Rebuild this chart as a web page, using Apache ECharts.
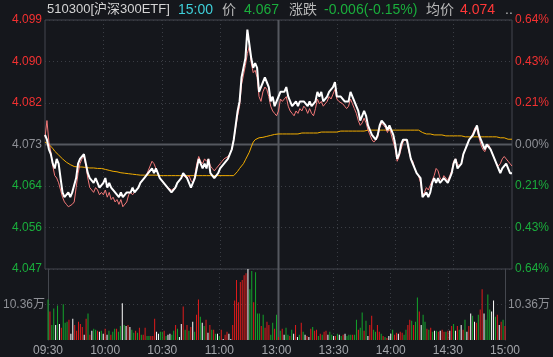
<!DOCTYPE html>
<html><head><meta charset="utf-8">
<script src="https://cdn.jsdelivr.net/npm/echarts/dist/echarts.min.js"></script>
<style>html,body{margin:0;padding:0;background:#15171c;}#c{width:553px;height:357px;}</style>
</head><body><div id="c"></div>
<script>
const prevClose = 4.073;
const priceMin = 4.047, priceMax = 4.099;
const volMax = 20.72, volMid = 10.36;
const xTickLabels = ['09:30','10:00','10:30','11:00','13:00','13:30','14:00','14:30','15:00'];
const headerTexts = ['510300[沪深300ETF]','15:00','价','4.067','涨跌','-0.006(-0.15%)','均价','4.074','..'];
const price = [
4.075,4.074,4.072,4.071,4.069,4.068,4.070,4.069,4.066,4.063,
4.062,4.062,4.063,4.062,4.063,4.063,4.066,4.069,4.070,4.070,
4.071,4.069,4.067,4.066,4.066,4.065,4.066,4.065,4.064,4.064,
4.065,4.066,4.064,4.065,4.064,4.064,4.063,4.063,4.062,4.063,
4.062,4.062,4.063,4.063,4.063,4.064,4.063,4.063,4.064,4.065,
4.065,4.066,4.066,4.067,4.067,4.068,4.067,4.068,4.068,4.066,
4.066,4.065,4.065,4.064,4.064,4.063,4.063,4.064,4.065,4.065,
4.066,4.067,4.067,4.066,4.066,4.064,4.064,4.066,4.068,4.070,
4.069,4.068,4.069,4.068,4.070,4.067,4.067,4.066,4.066,4.067,
4.068,4.068,4.069,4.069,4.070,4.071,4.072,4.074,4.077,4.080,
4.082,4.087,4.089,4.091,4.097,4.097,4.091,4.089,4.090,4.089,
4.084,4.084,4.086,4.087,4.086,4.085,4.082,4.083,4.081,4.082,
4.083,4.084,4.084,4.084,4.085,4.083,4.082,4.081,4.081,4.082,
4.081,4.082,4.082,4.082,4.082,4.081,4.082,4.081,4.081,4.082,
4.084,4.083,4.084,4.082,4.082,4.083,4.084,4.084,4.085,4.086,
4.083,4.083,4.083,4.083,4.082,4.082,4.082,4.084,4.083,4.082,
4.081,4.080,4.078,4.079,4.080,4.079,4.077,4.076,4.075,4.075,
4.074,4.075,4.077,4.078,4.078,4.077,4.076,4.077,4.076,4.075,
4.073,4.070,4.071,4.073,4.074,4.074,4.074,4.072,4.070,4.070,
4.068,4.067,4.067,4.066,4.062,4.062,4.063,4.062,4.063,4.065,
4.066,4.065,4.066,4.065,4.065,4.066,4.066,4.065,4.066,4.067,
4.069,4.070,4.068,4.068,4.069,4.071,4.072,4.073,4.074,4.074,
4.075,4.076,4.077,4.075,4.074,4.073,4.072,4.073,4.073,4.072,
4.071,4.070,4.069,4.069,4.067,4.068,4.068,4.069,4.068,4.067,
4.067];
const indexLine = [
4.0745,4.0780,4.0735,4.0715,4.0685,4.0665,4.0660,4.0650,4.0635,4.0620,
4.0610,4.0605,4.0600,4.0597,4.0605,4.0610,4.0640,4.0670,4.0690,4.0700,
4.0705,4.0685,4.0660,4.0640,4.0635,4.0630,4.0640,4.0635,4.0625,4.0630,
4.0625,4.0635,4.0620,4.0630,4.0615,4.0620,4.0610,4.0615,4.0605,4.0615,
4.0600,4.0598,4.0610,4.0625,4.0630,4.0625,4.0630,4.0635,4.0640,4.0650,
4.0655,4.0660,4.0665,4.0675,4.0685,4.0695,4.0690,4.0680,4.0670,4.0660,
4.0655,4.0650,4.0645,4.0640,4.0640,4.0635,4.0635,4.0640,4.0650,4.0655,
4.0660,4.0665,4.0665,4.0660,4.0665,4.0655,4.0650,4.0665,4.0690,4.0705,
4.0695,4.0690,4.0700,4.0695,4.0700,4.0685,4.0680,4.0675,4.0680,4.0685,
4.0690,4.0695,4.0700,4.0700,4.0705,4.0710,4.0720,4.0740,4.0765,4.0790,
4.0810,4.0855,4.0875,4.0895,4.0920,4.0935,4.0900,4.0880,4.0885,4.0870,
4.0830,4.0820,4.0840,4.0850,4.0845,4.0830,4.0810,4.0800,4.0795,4.0790,
4.0800,4.0825,4.0820,4.0825,4.0830,4.0810,4.0800,4.0795,4.0790,4.0800,
4.0795,4.0805,4.0800,4.0810,4.0805,4.0795,4.0805,4.0795,4.0790,4.0805,
4.0825,4.0815,4.0820,4.0810,4.0810,4.0820,4.0830,4.0825,4.0835,4.0845,
4.0825,4.0820,4.0820,4.0815,4.0810,4.0805,4.0810,4.0825,4.0815,4.0805,
4.0795,4.0780,4.0770,4.0775,4.0785,4.0775,4.0760,4.0750,4.0740,4.0735,
4.0735,4.0745,4.0765,4.0775,4.0770,4.0765,4.0755,4.0765,4.0750,4.0735,
4.0720,4.0695,4.0705,4.0720,4.0735,4.0740,4.0735,4.0715,4.0700,4.0695,
4.0680,4.0670,4.0665,4.0650,4.0625,4.0630,4.0640,4.0635,4.0645,4.0655,
4.0665,4.0680,4.0675,4.0660,4.0655,4.0665,4.0660,4.0655,4.0665,4.0675,
4.0695,4.0700,4.0690,4.0685,4.0690,4.0710,4.0720,4.0730,4.0740,4.0745,
4.0755,4.0765,4.0760,4.0745,4.0730,4.0720,4.0715,4.0725,4.0730,4.0720,
4.0710,4.0700,4.0690,4.0685,4.0690,4.0700,4.0705,4.0700,4.0695,4.0690,
4.0685];
const avgPrice = [
4.0735,4.0733,4.0730,4.0727,4.0722,4.0716,4.0712,4.0708,4.0704,4.0700,
4.0696,4.0693,4.0690,4.0688,4.0686,4.0684,4.0683,4.0683,4.0683,4.0683,
4.0682,4.0682,4.0682,4.0681,4.0681,4.0681,4.0681,4.0680,4.0680,4.0680,
4.0679,4.0678,4.0677,4.0676,4.0675,4.0674,4.0674,4.0673,4.0672,4.0671,
4.0671,4.0670,4.0669,4.0669,4.0668,4.0668,4.0667,4.0667,4.0667,4.0666,
4.0666,4.0666,4.0666,4.0666,4.0666,4.0666,4.0666,4.0666,4.0666,4.0665,
4.0665,4.0665,4.0665,4.0665,4.0665,4.0665,4.0665,4.0665,4.0665,4.0665,
4.0665,4.0665,4.0665,4.0665,4.0665,4.0665,4.0665,4.0665,4.0665,4.0665,
4.0665,4.0665,4.0665,4.0665,4.0665,4.0665,4.0665,4.0665,4.0665,4.0665,
4.0665,4.0665,4.0665,4.0665,4.0665,4.0665,4.0665,4.0665,4.0668,4.0674,
4.0680,4.0684,4.0690,4.0698,4.0706,4.0714,4.0725,4.0735,4.0740,4.0742,
4.0744,4.0745,4.0745,4.0746,4.0747,4.0748,4.0749,4.0750,4.0751,4.0751,
4.0752,4.0752,4.0752,4.0752,4.0752,4.0752,4.0752,4.0752,4.0752,4.0752,
4.0752,4.0752,4.0754,4.0754,4.0754,4.0754,4.0754,4.0754,4.0754,4.0754,
4.0754,4.0756,4.0756,4.0756,4.0756,4.0756,4.0756,4.0756,4.0756,4.0756,
4.0756,4.0758,4.0758,4.0758,4.0758,4.0758,4.0758,4.0758,4.0758,4.0758,
4.0758,4.0758,4.0758,4.0758,4.0758,4.0760,4.0760,4.0760,4.0760,4.0760,
4.0760,4.0760,4.0760,4.0760,4.0760,4.0760,4.0760,4.0760,4.0760,4.0760,
4.0760,4.0760,4.0760,4.0760,4.0760,4.0760,4.0760,4.0760,4.0760,4.0760,
4.0760,4.0760,4.0760,4.0757,4.0755,4.0752,4.0752,4.0752,4.0752,4.0750,
4.0750,4.0750,4.0750,4.0750,4.0750,4.0748,4.0748,4.0748,4.0748,4.0748,
4.0748,4.0748,4.0748,4.0748,4.0748,4.0746,4.0746,4.0746,4.0746,4.0746,
4.0746,4.0746,4.0746,4.0746,4.0746,4.0746,4.0746,4.0746,4.0746,4.0746,
4.0746,4.0746,4.0746,4.0744,4.0744,4.0744,4.0744,4.0744,4.0741,4.0741,
4.0741];
const volume = [
11.8,8.3,4.4,9.2,4.4,10.1,4.7,3.6,10.4,5.0,
5.3,5.9,1.8,6.2,4.4,2.7,5.3,4.7,3.8,1.5,
6.2,7.7,1.5,2.7,3.3,3.0,2.7,2.4,2.7,1.8,
3.3,1.5,2.7,1.5,2.4,3.3,3.3,2.4,4.1,10.7,
4.4,4.1,4.4,3.8,3.0,2.1,2.7,2.1,3.6,1.5,
1.5,3.6,1.2,1.2,1.2,1.2,6.2,2.4,1.8,2.4,
2.4,2.7,1.2,1.5,1.8,1.5,2.7,4.4,3.3,0.9,
4.7,9.8,3.0,4.4,2.7,3.8,5.3,2.4,7.4,11.8,
6.8,5.0,4.1,5.9,2.1,4.4,3.0,3.0,1.8,1.8,
1.2,3.0,0.3,1.5,2.4,1.8,0.3,4.4,11.5,17.5,
11.0,16.9,17.5,18.9,19.5,20.7,14.8,20.1,11.0,19.8,
7.7,7.7,4.1,7.4,3.6,5.3,4.4,1.5,5.0,3.3,
7.4,0.9,2.7,3.3,1.5,3.6,1.5,1.2,3.0,1.8,
4.4,0.9,1.5,5.0,2.4,1.5,1.2,0.9,3.3,3.8,
2.7,3.0,1.2,1.8,1.5,2.4,2.7,1.5,2.4,1.5,
1.2,1.2,1.8,1.5,1.2,1.5,1.8,1.2,1.5,1.5,
1.5,1.5,5.9,3.0,3.6,8.0,2.7,5.6,1.2,4.4,
7.1,3.0,2.4,4.4,2.4,1.8,1.2,0.9,0.6,1.2,
1.8,3.0,1.5,2.1,1.8,2.4,2.1,1.5,3.0,4.4,
5.9,5.6,4.4,5.3,12.4,8.3,4.4,7.4,5.3,3.3,
3.0,3.6,2.4,2.7,2.7,2.4,2.7,3.0,2.4,2.4,
2.7,2.7,4.1,4.7,2.7,4.1,3.0,4.4,3.0,5.9,
2.4,4.1,7.7,7.1,5.3,5.0,7.4,8.9,14.8,7.7,
5.9,13.3,8.9,8.3,11.5,6.8,7.4,4.4,5.3,5.9,
4.1];
const volDir = [
'grggwgwrgg','grwwrrrrrw','rgrwggrwgw','rwgrggrggw','gwrwggrgrg',
'rrggrrrwwg','grgwwggrgw','wrgrgrwgrr','gwgrwrgrgw','grwrrwwrrr',
'rrrrrwggrg','ggrgrrrggr','grgrwggrgw','rwgrgwrwrg','rrgrgrrwgg',
'wrgwgrwggg','rggrggrgwr','rggrrgrgrw','wgrrwrrggr','rgrggrwggr',
'grgwgrwrrg','rwrgwrgwrg','wrwgwrgrrw','gggwwgrwrg','r'].join('');

const times = [];
const hm = m => String(Math.floor(m/60)).padStart(2,'0') + ':' + String(m%60).padStart(2,'0');
for (let m = 9*60+30; m <= 11*60+30; m++) times.push(hm(m));
for (let m = 13*60+1; m <= 15*60; m++) times.push(hm(m));

const RED = '#f23131', GREEN = '#1aae3c', GRAY = '#8e9096';
const GRID = '#3a3d44', BORDER = '#44474e', MAINLINE = '#55585f';
const FONT = 'Liberation Sans, Arial, Noto Sans CJK SC, sans-serif';
const colorFor = v => v > prevClose + 1e-5 ? RED : (v < prevClose - 1e-5 ? GREEN : GRAY);
const dirColor = {r:'#e01b1b', g:'#13a52b', w:'#ffffff'};
const midIdx = times.indexOf('11:30');
const headerX = [47,178,222,244,289,324,426,460,505];
const headerF = [13,14,14,14,14,14,14,14,14];
const headerC = ['#d4d4d4','#3fcfd9','#b8b8b8',GREEN,'#b8b8b8',GREEN,'#b8b8b8','#ff3838','#b8b8b8'];

const chart = echarts.init(document.getElementById('c'), null, {renderer:'canvas'});
const interval = (priceMax - priceMin) / 6;
const dotted = {show:true, interval:(i)=> i%30===0 && i!==0 && i!==midIdx && i!==times.length-1,
                lineStyle:{color:GRID, type:[1,3], width:1}};
const xBase = (grid) => ({
  type:'category', gridIndex:grid, data: times, boundaryGap:false,
  axisLine:{show:false}, axisTick:{show:false}, axisLabel:{show:false}, splitLine:dotted
});
const xLabelAxis = xBase(1);
xLabelAxis.axisLabel = {show:true, interval:(i)=> i%30===0, margin:5, color:'#a3a5aa', fontSize:12,
  fontFamily:FONT, formatter:(v,i)=> xTickLabels[Math.round(i/30)]};
const volLabel = pos => ({gridIndex:1, type:'value', min:0, max:volMax, interval:volMid, position:pos,
  axisLine:{show:true, lineStyle:{color:BORDER}}, axisTick:{show:false},
  axisLabel:{margin:3, fontSize:12, fontFamily:FONT, color:GRAY, showMinLabel:false, showMaxLabel:false,
    formatter:v=> Math.abs(v-volMid)<0.01 ? volMid.toFixed(2)+'万' : ''},
  splitLine:{show:false}});
const headerGraphics = headerTexts.map((t,k)=>({type:'text', left:headerX[k], top:3, z:10,
    style:{text:t, fill:headerC[k], font:headerF[k] + 'px ' + FONT}}));

chart.setOption({
  backgroundColor:'#15171c',
  animation:false,
  grid:[
    {left:45, right:41, top:20, height:249, show:true, borderColor:BORDER, borderWidth:1},
    {left:45, right:41, top:269, height:71, show:false}
  ],
  xAxis:[ xBase(0), xLabelAxis ],
  yAxis:[
    {gridIndex:0, type:'value', min:priceMin, max:priceMax, interval:interval, position:'left',
     axisLine:{show:false}, axisTick:{show:false},
     axisLabel:{margin:3, fontSize:12, fontFamily:FONT, formatter:v=>v.toFixed(3), color:v=>colorFor(v)},
     splitLine:{show:true, lineStyle:{color:GRID, type:[1,3]}}},
    {gridIndex:0, type:'value', min:priceMin, max:priceMax, interval:interval, position:'right',
     axisLine:{show:false}, axisTick:{show:false},
     axisLabel:{margin:3, fontSize:12, fontFamily:FONT,
       formatter:v=>Math.abs((v-prevClose)/prevClose*100).toFixed(2)+'%', color:v=>colorFor(v)},
     splitLine:{show:false}},
    volLabel('left'),
    volLabel('right')
  ],
  series:[
    {type:'line', name:'avg', xAxisIndex:0, yAxisIndex:0, data:avgPrice, showSymbol:false, symbol:'none',
     lineStyle:{color:'#f2ad00', width:1}, z:2},
    {type:'line', name:'index', xAxisIndex:0, yAxisIndex:0, data:indexLine, showSymbol:false, symbol:'none',
     lineStyle:{color:'#f27878', width:1}, z:3},
    {type:'line', name:'price', xAxisIndex:0, yAxisIndex:0, data:price, showSymbol:false, symbol:'none',
     lineStyle:{color:'#ffffff', width:2}, z:4},
    {type:'bar', name:'vol', xAxisIndex:1, yAxisIndex:2, barWidth:1,
     data: volume.map((v,i)=>({value:v, itemStyle:{color:dirColor[volDir[i]]}}))}
  ]
});

// reference lines placed through the library's own scales
const px = (finder, v) => { const r = chart.convertToPixel(finder, v); return Array.isArray(r) ? r[0] : r; };
const xL = px({xAxisIndex:0}, 0);
const xR = px({xAxisIndex:0}, times.length-1);
const xM = px({xAxisIndex:0}, midIdx);
const yPC = chart.convertToPixel({gridIndex:0}, [0, prevClose])[1];
const yTop = chart.convertToPixel({gridIndex:0}, [0, priceMax])[1];
const yVolBottom = chart.convertToPixel({xAxisIndex:1, yAxisIndex:2}, [0, 0])[1];
const yVolMid = chart.convertToPixel({xAxisIndex:1, yAxisIndex:2}, [0, volMid])[1];
const refLines = [
  {type:'line', z:1, silent:true, shape:{x1:xL, y1:yPC, x2:xR, y2:yPC}, style:{stroke:MAINLINE, lineWidth:2}},
  {type:'line', z:1, silent:true, shape:{x1:xM, y1:yTop, x2:xM, y2:yVolBottom}, style:{stroke:MAINLINE, lineWidth:2}},
  {type:'line', z:1, silent:true, shape:{x1:xL, y1:yVolMid, x2:xR, y2:yVolMid}, style:{stroke:GRID, lineWidth:1, lineDash:[1,3]}}
];
chart.setOption({graphic: headerGraphics.concat(refLines)});
</script></body></html>
